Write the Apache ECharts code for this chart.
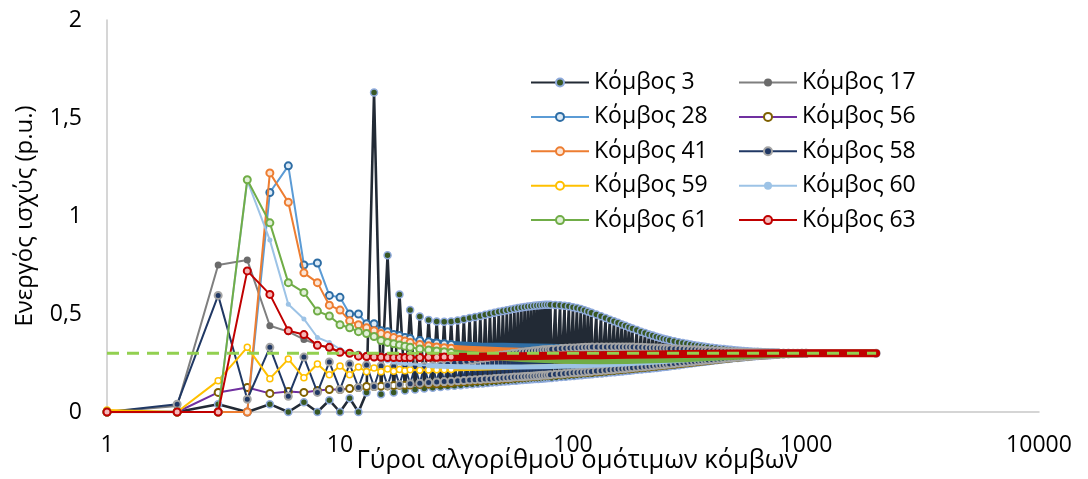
<!DOCTYPE html>
<html><head><meta charset="utf-8">
<script src="https://cdn.jsdelivr.net/npm/echarts@6/dist/echarts.min.js"></script>
<style>html,body{margin:0;padding:0;background:#fff}#c{width:1088px;height:479px}</style>
</head><body><div id="c"></div>
<script>
// ---------- data ----------
const xTickLabels = ['1','10','100','1000','10000'];
const yTickLabels = ['0','0,5','1','1,5','2'];
const xTitle = 'Γύροι αλγορίθμου ομότιμων κόμβων';
const yTitle = 'Ενεργός ισχύς (p.u.)';
const lastIteration = 2000;
const convergedValue = 0.3;

// iterations 1..13 (every iteration)
const earlyIters = [1,2,3,4,5,6,7,8,9,10,11,12,13];
const node3Early  = [0,0,0.04,0,0.04,0,0.05,0,0.06,0,0.07,0,0.10];
const node17Early = [0,0.03,0.75,0.775,0.44,0.41,0.37,0.345,0.325,0.31,0.30,0.295,0.29];
const node28Early = [0,0,0,0,1.12,1.256,0.75,0.76,0.595,0.585,0.50,0.50,0.45];
const node56Early = [0,0,0.10,0.125,0.095,0.105,0.10,0.11,0.115,0.115,0.12,0.125,0.13];
const node41Early = [0,0,0,0,1.22,1.07,0.71,0.66,0.545,0.52,0.465,0.445,0.43];
const node58Early = [0,0.04,0.595,0.065,0.33,0.08,0.28,0.10,0.255,0.115,0.245,0.125,0.24];
const node59Early = [0.01,0,0.16,0.33,0.17,0.27,0.175,0.245,0.19,0.235,0.19,0.23,0.205];
const node60Early = [0,0,0,1.18,0.877,0.55,0.475,0.38,0.355,0.32,0.30,0.29,0.28];
const node61Early = [0,0,0,1.185,0.965,0.66,0.61,0.515,0.49,0.445,0.43,0.41,0.40];
const node63Early = [0,0,0,0.72,0.60,0.415,0.395,0.34,0.33,0.305,0.30,0.285,0.283];

// later iterations of the smoothly converging nodes
const tailIters   = [14,15,16,17,18,19,20,22,24,26,28,30,35,40,50,60,80,100,130,170,220,300,400,500,600,800,1000,2000];
const node17Tail = [0.288,0.287,0.286,0.285,0.285,0.284,0.284,0.284,0.284,0.284,0.285,0.285,0.286,0.287,0.288,0.289,0.29,0.291,0.292,0.294,0.295,0.297,0.298,0.299,0.3,0.3,0.3,0.3];
const node28Tail = [0.45,0.415,0.41,0.395,0.39,0.38,0.375,0.365,0.358,0.352,0.348,0.345,0.34,0.337,0.335,0.333,0.33,0.327,0.323,0.318,0.314,0.31,0.306,0.304,0.302,0.301,0.3,0.3];
const node56Tail = [0.13,0.132,0.133,0.135,0.136,0.137,0.138,0.14,0.142,0.144,0.146,0.148,0.152,0.157,0.165,0.172,0.183,0.192,0.203,0.215,0.228,0.245,0.262,0.274,0.283,0.293,0.298,0.3];
const node41Tail = [0.415,0.40,0.39,0.38,0.37,0.362,0.355,0.345,0.338,0.332,0.328,0.325,0.32,0.317,0.313,0.31,0.307,0.305,0.304,0.303,0.302,0.301,0.3,0.3,0.3,0.3,0.3,0.3];
const node59Tail = [0.225,0.205,0.22,0.208,0.217,0.21,0.215,0.213,0.214,0.215,0.216,0.217,0.219,0.221,0.225,0.229,0.235,0.24,0.245,0.251,0.258,0.267,0.276,0.283,0.288,0.294,0.298,0.3];
const node60Tail = [0.27,0.265,0.26,0.255,0.25,0.247,0.244,0.24,0.237,0.235,0.233,0.232,0.23,0.229,0.229,0.23,0.232,0.235,0.24,0.246,0.254,0.265,0.276,0.284,0.289,0.295,0.298,0.3];
const node61Tail = [0.385,0.365,0.355,0.348,0.342,0.336,0.33,0.322,0.316,0.311,0.307,0.303,0.295,0.288,0.279,0.273,0.266,0.263,0.262,0.263,0.266,0.272,0.279,0.285,0.29,0.296,0.299,0.3];
const node63Tail = [0.28,0.279,0.278,0.278,0.278,0.278,0.278,0.278,0.279,0.279,0.28,0.28,0.281,0.282,0.284,0.285,0.287,0.289,0.29,0.292,0.294,0.296,0.297,0.298,0.299,0.3,0.3,0.3];

// oscillating nodes: value at iteration n (from oscGrid) and at n+1
const oscGrid = [14,16,18,20,22,24,26,28,30,32,34,36,38,40,42,44,46,48,50,52,54,56,58,60,62,64,66,68,70,72,74,76,78,80,
 84,88,92,96,100,104,108,112,116,120,
 126,132,138,144,150,156,162,168,174,180,
 188,196,204,212,220,228,236,244,252,260,
 272,284,296,308,320,332,344,356,368,380,
 396,412,428,444,460,476,492,508,524,540,
 560,580,600,620,640,660,680,700,720,740,760,
 800,840,880,920,960,1000];
const node3AtN = [1.63,0.80,0.60,0.52,0.487,0.47,0.462,0.46,0.462,0.467,0.473,0.479,0.485,0.49,0.496,0.501,0.506,0.511,0.515,0.519,0.523,0.527,0.53,0.533,0.536,0.538,0.54,0.542,0.544,0.545,0.546,0.547,0.547,0.547,
 0.546,0.545,0.542,0.539,0.535,0.53,0.525,0.519,0.513,0.507,
 0.498,0.489,0.48,0.471,0.463,0.455,0.447,0.44,0.433,0.426,
 0.418,0.41,0.403,0.396,0.39,0.384,0.379,0.374,0.37,0.366,
 0.361,0.356,0.352,0.348,0.344,0.341,0.338,0.335,0.333,0.33,
 0.328,0.325,0.323,0.321,0.319,0.317,0.315,0.314,0.312,0.311,
 0.31,0.309,0.308,0.307,0.306,0.305,0.304,0.303,0.303,0.302,0.302,
 0.301,0.301,0.3,0.3,0.3,0.3];
const node3AtN1 = [0.09,0.10,0.11,0.115,0.12,0.124,0.128,0.131,0.134,0.137,0.14,0.142,0.144,0.146,0.148,0.15,0.152,0.154,0.156,0.157,0.159,0.16,0.162,0.163,0.164,0.166,0.167,0.168,0.169,0.17,0.171,0.172,0.173,0.174,
 0.176,0.178,0.18,0.182,0.184,0.186,0.188,0.19,0.191,0.193,
 0.195,0.197,0.199,0.201,0.203,0.205,0.207,0.209,0.211,0.213,
 0.215,0.217,0.219,0.221,0.223,0.225,0.227,0.229,0.231,0.233,
 0.236,0.239,0.242,0.245,0.248,0.25,0.253,0.255,0.257,0.259,
 0.262,0.264,0.267,0.269,0.271,0.273,0.275,0.276,0.278,0.279,
 0.281,0.283,0.284,0.286,0.287,0.288,0.289,0.29,0.291,0.292,0.293,
 0.295,0.296,0.297,0.298,0.299,0.3];
const node58AtN = [0.13,0.135,0.14,0.144,0.147,0.15,0.153,0.155,0.157,0.159,0.161,0.163,0.165,0.166,0.168,0.169,0.171,0.172,0.174,0.175,0.176,0.178,0.179,0.18,0.181,0.182,0.183,0.184,0.185,0.186,0.187,0.188,0.189,0.19,
 0.192,0.194,0.196,0.198,0.2,0.201,0.203,0.204,0.206,0.207,
 0.209,0.211,0.213,0.215,0.217,0.219,0.221,0.222,0.224,0.226,
 0.228,0.23,0.232,0.234,0.236,0.238,0.24,0.241,0.243,0.245,
 0.247,0.25,0.252,0.254,0.256,0.258,0.26,0.262,0.264,0.265,
 0.267,0.269,0.271,0.273,0.275,0.277,0.278,0.28,0.281,0.282,
 0.284,0.285,0.287,0.288,0.289,0.29,0.291,0.292,0.293,0.294,0.295,
 0.296,0.297,0.298,0.299,0.3,0.3];
const node58AtN1 = [0.235,0.232,0.231,0.231,0.233,0.236,0.24,0.244,0.249,0.254,0.259,0.264,0.269,0.274,0.278,0.282,0.286,0.289,0.292,0.295,0.298,0.3,0.303,0.305,0.307,0.309,0.311,0.313,0.314,0.316,0.317,0.318,0.319,0.32,
 0.322,0.324,0.325,0.326,0.327,0.328,0.329,0.33,0.33,0.331,
 0.331,0.332,0.332,0.332,0.332,0.332,0.332,0.331,0.331,0.331,
 0.33,0.33,0.329,0.328,0.328,0.327,0.326,0.325,0.324,0.323,
 0.322,0.321,0.32,0.319,0.318,0.317,0.316,0.315,0.314,0.313,
 0.312,0.311,0.31,0.309,0.308,0.307,0.306,0.306,0.305,0.305,
 0.304,0.304,0.303,0.303,0.302,0.302,0.302,0.301,0.301,0.301,0.301,
 0.3,0.3,0.3,0.3,0.3,0.3];

// ---------- build ----------
const FONT = '"Open Sans", "Noto Sans", "DejaVu Sans", sans-serif';
function zip(xs, ys){ return xs.map((x,i)=>[x, ys[i]]); }
function oscData(early, atN, atN1){
  const d = zip(earlyIters, early);
  oscGrid.forEach((g,i)=>{ d.push([g, atN[i]]); d.push([g+1, atN1[i]]); });
  d.push([lastIteration, convergedValue]);
  return d;
}
const HEAD_MAX = 30, BAND_MIN = 24;
function headData(early, tail){
  return zip(earlyIters, early).concat(zip(tailIters, tail).filter(p=>p[0]<=HEAD_MAX));
}
function bandData(tail){ return zip(tailIters, tail).filter(p=>p[0]>=BAND_MIN); }

const styles = {
  'Κόμβος 3':  {line:'#222A35', lw:2.6, fill:'#385723', border:'#8FAADC', bw:1.5, size:7},
  'Κόμβος 17': {line:'#7F7F7F', fill:'#6B6B6B', border:'#6B6B6B', bw:0, size:7, band:'#6B6B6B', bandW:7},
  'Κόμβος 28': {line:'#5B9BD5', fill:'#DDEBF7', border:'#2E6DA4', bw:2, size:7, band:'#2E6DA4', bandW:7},
  'Κόμβος 56': {line:'#7030A0', fill:'#FFFFFF', border:'#7F6000', bw:2, size:7, band:'#7F6000', bandW:7},
  'Κόμβος 41': {line:'#ED7D31', fill:'#FBE5D6', border:'#ED7D31', bw:2, size:7, band:'#ED7D31', bandW:7},
  'Κόμβος 58': {line:'#203864', fill:'#203864', border:'#A5A5A5', bw:2, size:7},
  'Κόμβος 59': {line:'#FFC000', fill:'#FFFFFF', border:'#FFC000', bw:1.5, size:6, band:'#FFC000', bandW:4},
  'Κόμβος 60': {line:'#9DC3E6', fill:'#9DC3E6', border:'#9DC3E6', bw:0, size:5, band:'#9DC3E6', bandW:5},
  'Κόμβος 61': {line:'#70AD47', fill:'#E2F0D9', border:'#70AD47', bw:2, size:7, band:'#70AD47', bandW:7},
  'Κόμβος 63': {line:'#C00000', fill:'#F4B8B8', border:'#C00000', bw:2, size:7, band:'#C00000', bandW:8}
};
let zc = 1;
function lineSeries(name, data){
  const s = styles[name];
  return {name, type:'line', data, symbol:'circle', symbolSize:s.size, showAllSymbol:true,
    lineStyle:{color:s.line, width:s.lw || 2}, itemStyle:{color:s.fill, borderColor:s.border, borderWidth:s.bw},
    silent:true, z:zc++};
}
function bandSeries(name, data){
  const s = styles[name];
  return {name:name+' ·', type:'line', data, symbol:'none',
    lineStyle:{color:s.band, width:s.bandW, cap:'round', join:'round'}, silent:true, z:zc++};
}

const series = [];
series.push(lineSeries('Κόμβος 3', oscData(node3Early, node3AtN, node3AtN1)));
[['Κόμβος 17',node17Early,node17Tail],['Κόμβος 28',node28Early,node28Tail],['Κόμβος 56',node56Early,node56Tail],['Κόμβος 41',node41Early,node41Tail]]
  .forEach(([n,e,t])=>{ series.push(bandSeries(n, bandData(t))); series.push(lineSeries(n, headData(e,t))); });
series.push(lineSeries('Κόμβος 58', oscData(node58Early, node58AtN, node58AtN1)));
[['Κόμβος 59',node59Early,node59Tail],['Κόμβος 60',node60Early,node60Tail],['Κόμβος 61',node61Early,node61Tail],['Κόμβος 63',node63Early,node63Tail]]
  .forEach(([n,e,t])=>{ series.push(bandSeries(n, bandData(t))); series.push(lineSeries(n, headData(e,t))); });
series.push({name:'ref', type:'line', data:[[1,convergedValue],[lastIteration,convergedValue]], symbol:'none',
  lineStyle:{color:'#92D050', width:3, type:[12,8]}, silent:true, z:zc++});

const legendBase = {orient:'vertical', itemWidth:58, itemHeight:10, itemGap:10.4, selectedMode:false, z:100,
  textStyle:{fontSize:23, color:'#000', fontFamily:FONT, lineHeight:24}};

const option = {
  animation:false,
  textStyle:{fontFamily:FONT},
  grid:{left:107, right:49, top:20, bottom:67, containLabel:false, outerBoundsMode:'none'},
  xAxis:{type:'log', logBase:10, min:1, max:10000, z:0,
    axisLine:{show:true, lineStyle:{color:'#C8C8C8', width:1.5}}, axisTick:{show:false}, splitLine:{show:false},
    axisLabel:{color:'#000', fontSize:23, margin:22, fontFamily:FONT,
      formatter:v=>xTickLabels[Math.round(Math.log10(v))]},
    name:xTitle, nameLocation:'middle', nameGap:36, nameMoveOverlap:false,
    nameTextStyle:{fontSize:25.5, color:'#000', fontFamily:FONT, padding:[0,0,0,9]}},
  yAxis:{type:'value', min:0, max:2, interval:0.5, z:0,
    axisLine:{show:true, lineStyle:{color:'#C8C8C8', width:1.5}}, axisTick:{show:false}, splitLine:{show:false},
    axisLabel:{color:'#000', fontSize:23, margin:25, fontFamily:FONT,
      formatter:v=>yTickLabels[Math.round(v/0.5)]},
    name:yTitle, nameLocation:'middle', nameGap:70, nameMoveOverlap:false,
    nameTextStyle:{fontSize:24, color:'#000', fontFamily:FONT}},
  legend:[
    Object.assign({left:525, top:65.5, data:['Κόμβος 3','Κόμβος 28','Κόμβος 41','Κόμβος 59','Κόμβος 61']}, legendBase),
    Object.assign({left:733, top:65.5, data:['Κόμβος 17','Κόμβος 56','Κόμβος 58','Κόμβος 60','Κόμβος 63']}, legendBase)
  ],
  series
};
const chart = echarts.init(document.getElementById('c'), null, {renderer:'canvas'});
chart.setOption(option);
</script></body></html>
